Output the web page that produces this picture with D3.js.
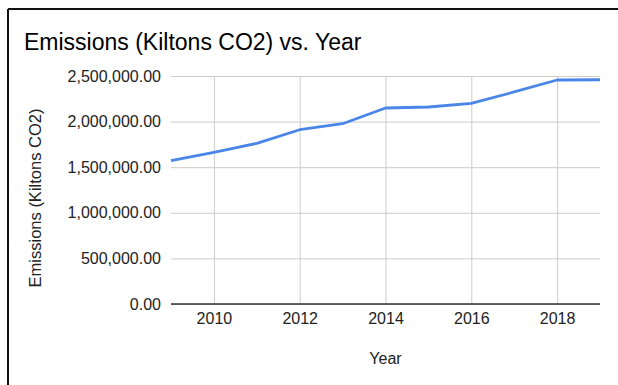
<!DOCTYPE html>
<html>
<head>
<meta charset="utf-8">
<script src="https://cdn.jsdelivr.net/npm/d3@7"></script>
<style>
  html, body { margin: 0; padding: 0; background: #fff; }
  svg { display: block; }
  text { font-family: "Liberation Sans", Arial, Helvetica, sans-serif; fill: #222; }
</style>
</head>
<body>
<svg id="chart" width="618" height="385"></svg>
<script>
// Annual CO2 emissions, kilotons
const years = [2009, 2010, 2011, 2012, 2013, 2014, 2015, 2016, 2017, 2018, 2019];
const emissions = [1571000, 1663000, 1762000, 1911000, 1977000, 2149000, 2160000, 2200000, 2325000, 2456000, 2459000];
const yTicks = [0, 500000, 1000000, 1500000, 2000000, 2500000];
const xTicks = [2010, 2012, 2014, 2016, 2018];

const titleText = "Emissions (Kiltons CO2) vs. Year";
const xTitle = "Year";
const yTitle = "Emissions (Kiltons CO2)";

const svg = d3.select("#chart");
const W = 618, H = 385;

// outer frame: top and left edges only
svg.append("line").attr("x1", 8).attr("x2", W).attr("y1", 9).attr("y2", 9)
  .attr("stroke", "#111").attr("stroke-width", 2);
svg.append("line").attr("x1", 8).attr("x2", 8).attr("y1", 9).attr("y2", H)
  .attr("stroke", "#111").attr("stroke-width", 2);

const plot = { left: 171, right: 600, top: 76, bottom: 304 };

const x = d3.scaleLinear().domain([2009, 2019]).range([plot.left, plot.right]);
const y = d3.scaleLinear().domain([0, 2500000]).range([plot.bottom, plot.top]);

// title
svg.append("text")
  .attr("x", 24).attr("y", 50)
  .attr("font-size", 23)
  .style("fill", "#000")
  .text(titleText);

// horizontal gridlines + y labels
const fmt = d3.format(",.2f");
const yAxis = d3.axisLeft(y).tickValues(yTicks).tickFormat(fmt)
  .tickSize(-(plot.right - plot.left)).tickPadding(10);
const gy = svg.append("g").attr("transform", `translate(${plot.left},0)`).call(yAxis);
gy.select(".domain").remove();
gy.selectAll(".tick line").attr("stroke", "#cccccc").attr("stroke-width", 1);
gy.selectAll(".tick text")
  .attr("font-size", 16)
  .style("font-family", '"Liberation Sans", Arial, sans-serif')
  .style("fill", "#222");

// vertical gridlines + x labels
const xAxis = d3.axisBottom(x).tickValues(xTicks).tickFormat(d3.format("d"))
  .tickSize(-(plot.bottom - plot.top)).tickPadding(9);
const gx = svg.append("g").attr("transform", `translate(0,${plot.bottom})`).call(xAxis);
gx.select(".domain").remove();
gx.selectAll(".tick line").attr("stroke", "#cccccc").attr("stroke-width", 1);
gx.selectAll(".tick text")
  .attr("font-size", 16)
  .style("font-family", '"Liberation Sans", Arial, sans-serif')
  .style("fill", "#222");

// baseline at zero
svg.append("line")
  .attr("x1", plot.left).attr("x2", plot.right)
  .attr("y1", y(0)).attr("y2", y(0))
  .attr("stroke", "#333").attr("stroke-width", 1.3);

// emissions line
const line = d3.line().x((d, i) => x(years[i])).y(d => y(d));
svg.append("path")
  .datum(emissions)
  .attr("d", line)
  .attr("fill", "none")
  .attr("stroke", "#4a86e8")
  .attr("stroke-width", 2.8)
  .attr("stroke-linejoin", "round");

// axis titles
svg.append("text")
  .attr("x", x(2014)).attr("y", 364)
  .attr("text-anchor", "middle")
  .attr("font-size", 16)
  .text(xTitle);

svg.append("text")
  .attr("transform", `translate(41,${(plot.top + plot.bottom) / 2 + 8}) rotate(-90)`)
  .attr("text-anchor", "middle")
  .attr("font-size", 16.5)
  .text(yTitle);
</script>
</body>
</html>
